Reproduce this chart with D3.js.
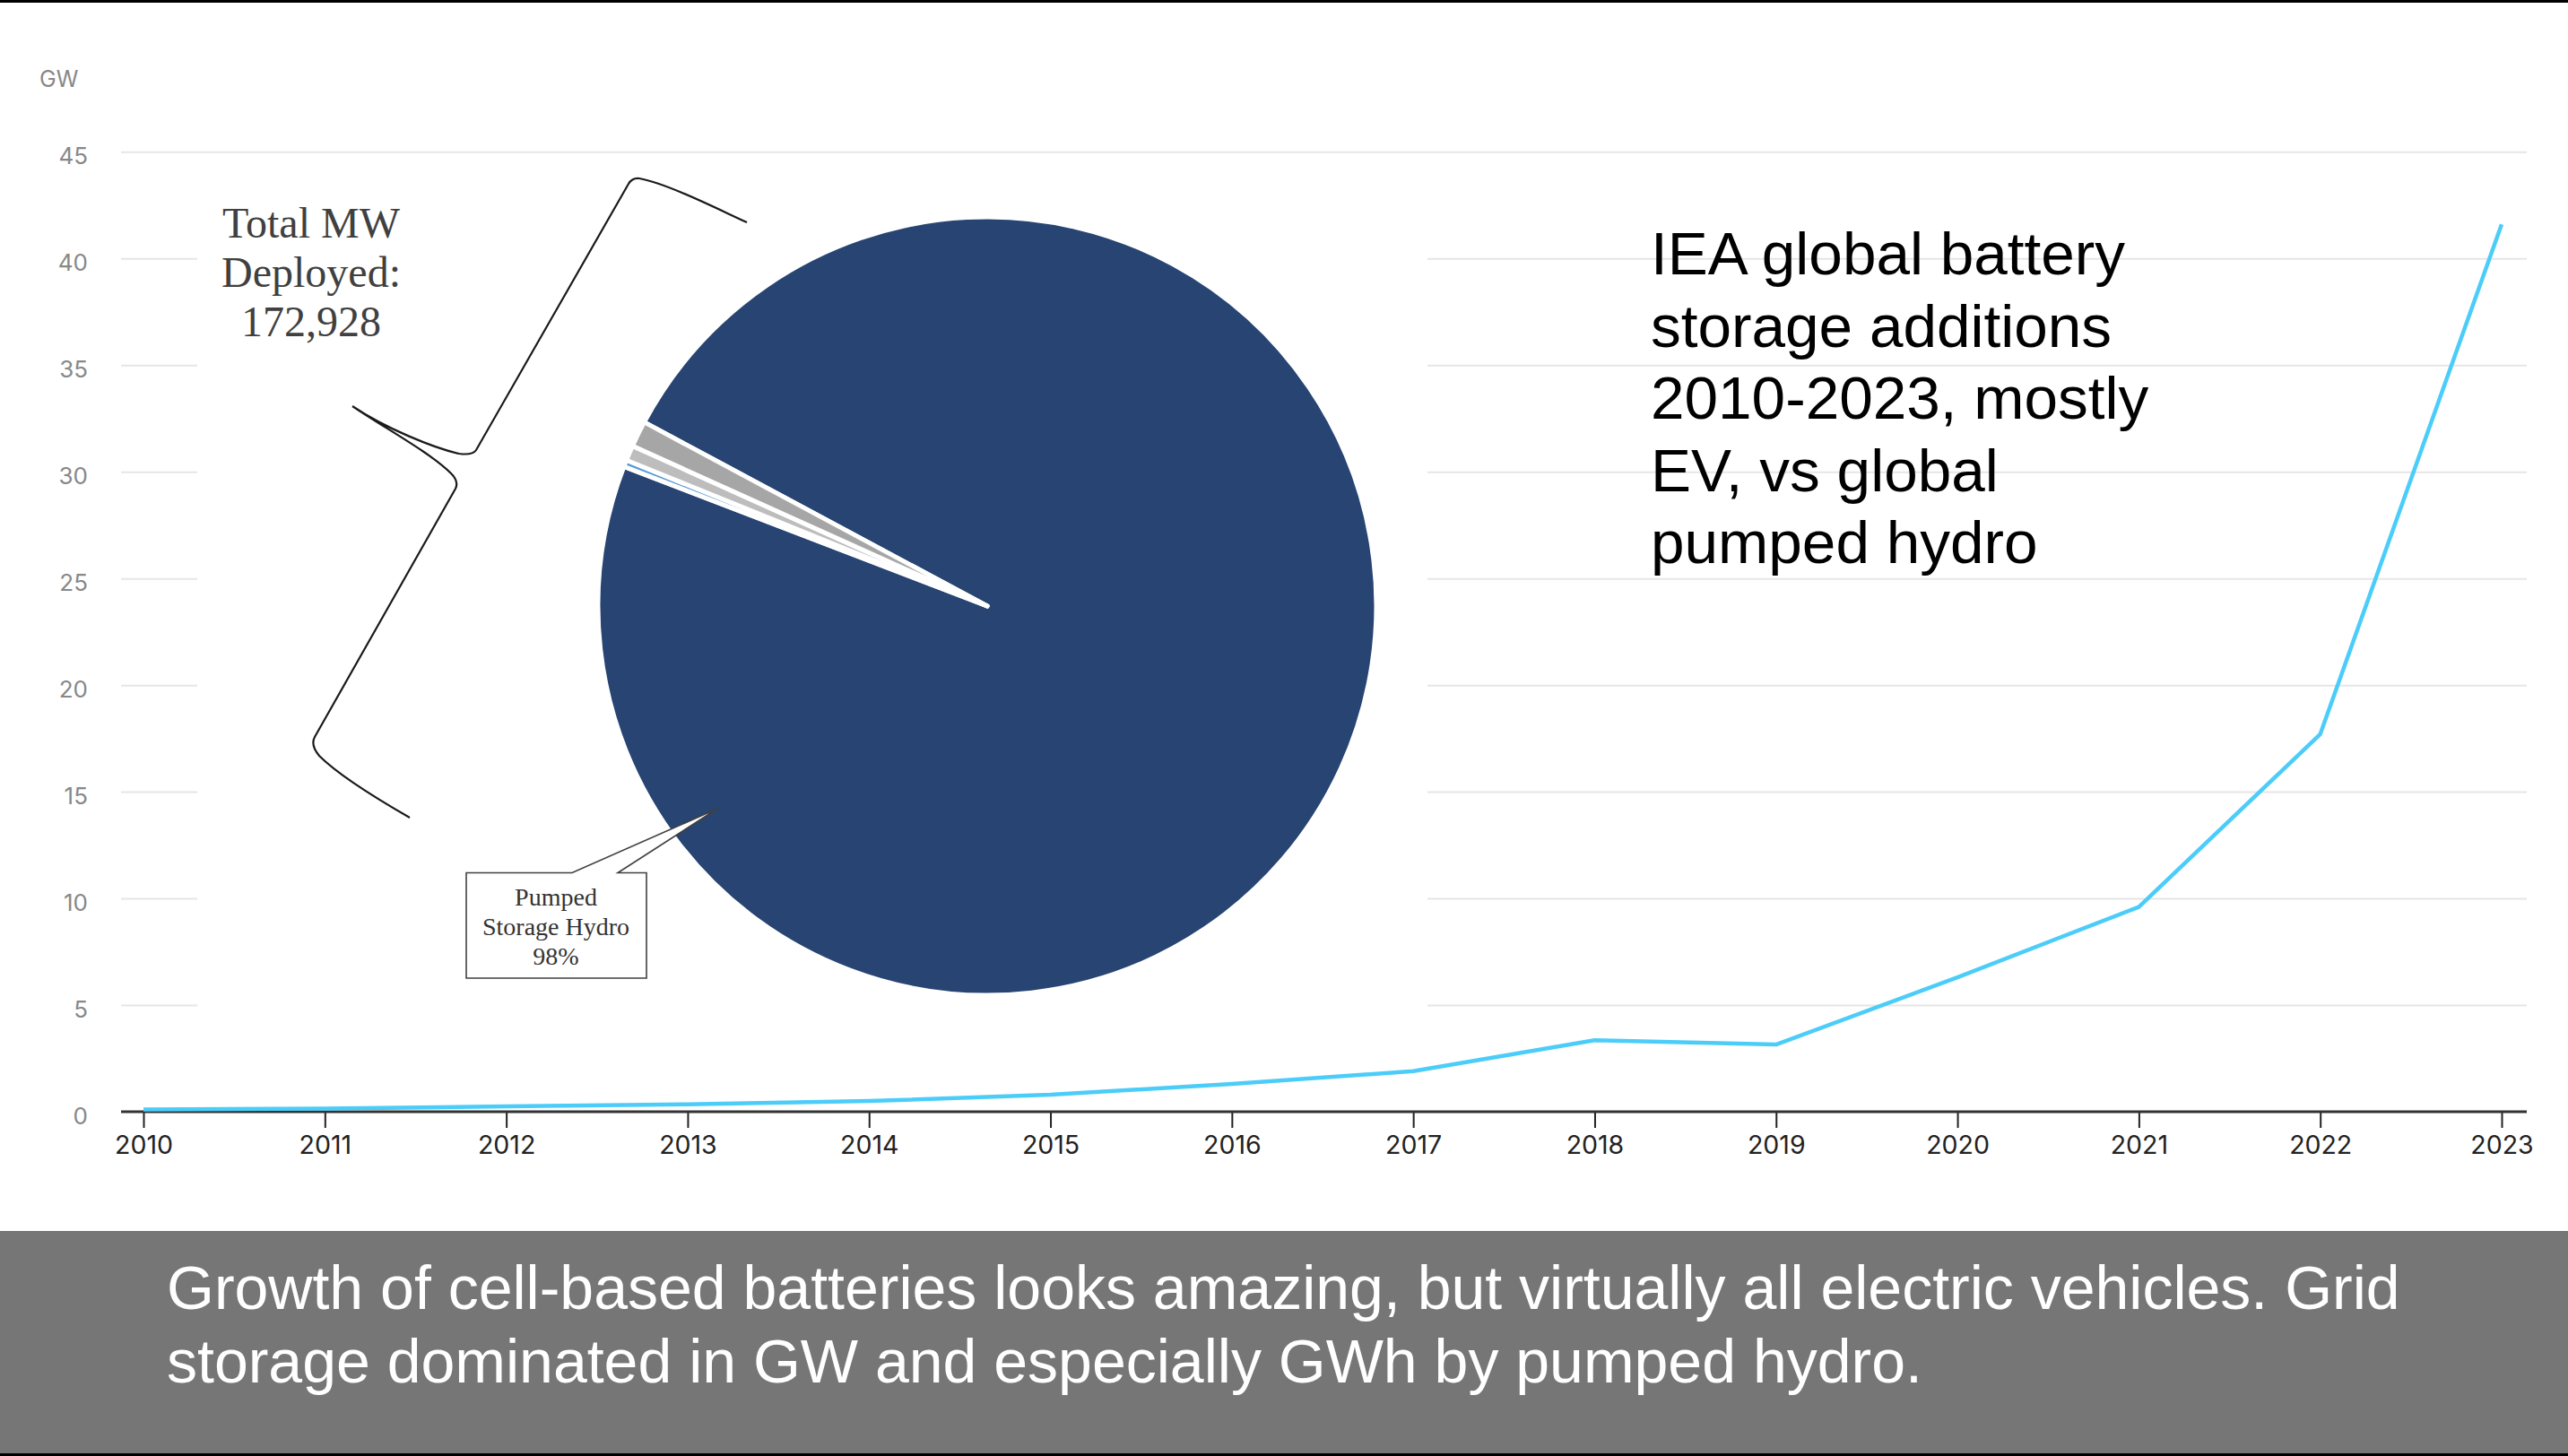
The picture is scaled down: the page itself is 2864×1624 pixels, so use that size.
<!DOCTYPE html>
<html><head><meta charset="utf-8">
<script src="https://cdn.jsdelivr.net/npm/d3@7"></script>
<style>html,body{margin:0;padding:0;background:#fff;}svg{display:block}</style>
</head><body>
<svg id="chart" width="2864" height="1624"></svg>
<script>
// ---------- data ----------
const years = [2010,2011,2012,2013,2014,2015,2016,2017,2018,2019,2020,2021,2022,2023];
const batteryGW = [0.1,0.15,0.25,0.35,0.5,0.8,1.3,1.9,3.35,3.15,6.3,9.6,17.7,41.6];
const yTicks = [0,5,10,15,20,25,30,35,40,45];
const pieCategories = ["Pumped Storage Hydro","Electro-mechanical","Electro-chemical","Thermal Storage"];
const pieMW = [169478, 480, 1100, 1870];
const pieColors = ["#274472","#5b9bd5","#bdbdbd","#a6a6a6"];
const totalLines = ["Total MW","Deployed:","172,928"];
const calloutLines = ["Pumped","Storage Hydro","98%"];
const titleLines = ["IEA global battery","storage additions","2010-2023, mostly","EV, vs global","pumped hydro"];
const captionLines = ["Growth of cell-based batteries looks amazing, but virtually all electric vehicles. Grid",
                      "storage dominated in GW and especially GWh by pumped hydro."];

// ---------- layout ----------
const W = 2864, H = 1624;
const plot = {left:135, right:2818, top:169.3, bottom:1240};
const svg = d3.select("#chart");
const axisFont = "Inter, 'Open Sans', sans-serif";

svg.append("rect").attr("width",W).attr("height",H).attr("fill","#fff");

const x = d3.scaleLinear().domain([2010,2023]).range([160,2790]);
const y = d3.scaleLinear().domain([0,45]).range([plot.bottom, plot.top]);

// grid + y labels
const yAxis = svg.append("g").attr("transform",`translate(${plot.left},0)`)
  .call(d3.axisLeft(y).tickValues(yTicks).tickSize(-(plot.right-plot.left)).tickPadding(37));
yAxis.select(".domain").remove();
yAxis.selectAll(".tick line").attr("stroke","#e6e6e6").attr("stroke-width",2)
  .filter(d=>d===0).remove();
yAxis.selectAll(".tick text").attr("fill","#888").attr("font-size",26)
  .attr("font-family",axisFont).attr("dy","0.52em");

svg.append("text").attr("x",44).attr("y",97).text("GW")
  .attr("fill","#888").attr("font-size",25).attr("font-family",axisFont);

// white pasted image background
svg.append("rect").attr("x",220).attr("y",180).attr("width",1372).attr("height",1020).attr("fill","#fff");

// ---------- pie ----------
const cx = 1101, cy = 676, R = 434;
const a0 = -61.8*Math.PI/180;
const pie = d3.pie().sort(null).startAngle(a0).endAngle(a0+2*Math.PI);
const arc = d3.arc().innerRadius(0).outerRadius(R);
const pg = svg.append("g").attr("transform",`translate(${cx},${cy})`);
pg.selectAll("path").data(pie(pieMW)).join("path")
  .attr("d",arc).attr("fill",(d,i)=>pieColors[i])
  .attr("stroke","#fff").attr("stroke-width",5).attr("stroke-linejoin","round");

// brace annotation
const brace = "M833,248 C800,233 745,205 713,199 Q705,198 701,205 L531,502 Q527,508 512,506 C485,500 430,478 393,453 C430,478 480,505 503,528 Q512,537 508,545 L351,822 Q346,831 356,843 C375,862 410,885 457,912";
svg.append("path").attr("d",brace).attr("fill","none").attr("stroke","#1a1a1a").attr("stroke-width",2.2);

const tg = svg.append("text").attr("text-anchor","middle").attr("fill","#404040")
  .attr("font-family","'Liberation Serif','Times New Roman',serif").attr("font-size",48);
totalLines.forEach((t,i)=>tg.append("tspan").attr("x",347).attr("y",265+i*55).text(t));

// callout
const callout = "M520,973.5 L638,973.5 L800,902 L689,973.5 L721,973.5 L721,1091 L520,1091 Z";
svg.append("path").attr("d",callout).attr("fill","#fff").attr("stroke","#404040").attr("stroke-width",1.6);
const cg = svg.append("text").attr("text-anchor","middle").attr("fill","#333")
  .attr("font-family","'Liberation Serif','Times New Roman',serif").attr("font-size",28);
calloutLines.forEach((t,i)=>cg.append("tspan").attr("x",620).attr("y",1010+i*33).text(t));

// ---------- x axis ----------
const xAxis = svg.append("g").attr("transform",`translate(0,${plot.bottom})`)
  .call(d3.axisBottom(x).tickValues(years).tickFormat(d3.format("d")).tickSize(18).tickSizeOuter(0).tickPadding(9));
xAxis.select(".domain").remove();
xAxis.selectAll(".tick line").attr("stroke","#222").attr("stroke-width",2);
xAxis.selectAll(".tick text").attr("fill","#222").attr("font-size",28.5).attr("font-family",axisFont);
svg.append("line").attr("x1",plot.left).attr("x2",plot.right).attr("y1",plot.bottom).attr("y2",plot.bottom)
  .attr("stroke","#333").attr("stroke-width",3);

// ---------- line ----------
svg.append("path").datum(years.map((yr,i)=>[yr,batteryGW[i]]))
  .attr("d",d3.line().x(d=>x(d[0])).y(d=>y(d[1])))
  .attr("fill","none").attr("stroke","#4ccdf9").attr("stroke-width",4.5).attr("stroke-linejoin","round");

// ---------- title ----------
const tt = svg.append("text").attr("fill","#000").attr("font-family","'Liberation Sans',Arial,sans-serif").attr("font-size",67.5);
titleLines.forEach((t,i)=>tt.append("tspan").attr("x",1841).attr("y",306+i*80.6).text(t));

// ---------- caption banner ----------
svg.append("rect").attr("x",0).attr("y",1373).attr("width",W).attr("height",H-1373).attr("fill","#767676");
const ct = svg.append("text").attr("fill","#fff").attr("font-family","'Liberation Sans',Arial,sans-serif").attr("font-size",68);
captionLines.forEach((t,i)=>ct.append("tspan").attr("x",186).attr("y",1460+i*82).text(t));

// frame lines
svg.append("rect").attr("x",0).attr("y",0).attr("width",W).attr("height",3).attr("fill","#000");
svg.append("rect").attr("x",0).attr("y",H-3).attr("width",W).attr("height",3).attr("fill","#000");
</script>
</body></html>
